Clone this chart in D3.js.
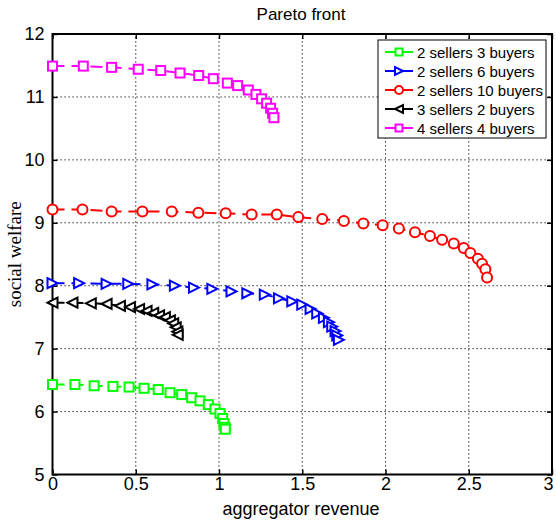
<!DOCTYPE html>
<html>
<head>
<meta charset="utf-8">
<script src="https://cdn.jsdelivr.net/npm/d3@7.9.0/dist/d3.min.js"></script>
<style>
  body { margin: 0; background: #fff; }
  svg { display: block; font-family: Arial, "Liberation Sans", sans-serif; }
</style>
</head>
<body>
<svg id="chart"></svg>
<script>
const width = 556, height = 521;

// --- data ---
const seriesNames = ["2 sellers 3 buyers", "2 sellers 6 buyers", "2 sellers 10 buyers", "3 sellers 2 buyers", "4 sellers 4 buyers"];

const green_x = [0, 0.135, 0.25, 0.363, 0.46, 0.55, 0.635, 0.706, 0.776, 0.836, 0.886, 0.936, 0.976, 1.006, 1.022, 1.03, 1.036, 1.038];
const green_y = [6.43, 6.43, 6.41, 6.40, 6.39, 6.37, 6.35, 6.30, 6.27, 6.22, 6.17, 6.11, 6.04, 5.97, 5.89, 5.81, 5.75, 5.72];

const blue_x = [0, 0.16, 0.325, 0.455, 0.60, 0.735, 0.85, 0.96, 1.075, 1.17, 1.275, 1.36, 1.44, 1.50, 1.55, 1.59, 1.63, 1.66, 1.68, 1.70, 1.71, 1.72];
const blue_y = [8.04, 8.04, 8.03, 8.03, 8.02, 8.00, 7.97, 7.95, 7.91, 7.88, 7.86, 7.80, 7.75, 7.70, 7.63, 7.56, 7.49, 7.42, 7.35, 7.28, 7.21, 7.14];

const red_x = [0, 0.18, 0.355, 0.54, 0.716, 0.876, 1.04, 1.196, 1.347, 1.476, 1.62, 1.75, 1.867, 1.983, 2.08, 2.177, 2.267, 2.34, 2.41, 2.47, 2.51, 2.555, 2.58, 2.60, 2.61];
const red_y = [9.21, 9.21, 9.18, 9.18, 9.18, 9.16, 9.15, 9.13, 9.13, 9.09, 9.06, 9.03, 8.99, 8.96, 8.91, 8.85, 8.79, 8.73, 8.67, 8.60, 8.52, 8.43, 8.35, 8.26, 8.13];

const black_x = [0, 0.12, 0.23, 0.325, 0.405, 0.465, 0.52, 0.565, 0.605, 0.64, 0.675, 0.705, 0.725, 0.74, 0.75, 0.752];
const black_y = [7.73, 7.73, 7.72, 7.71, 7.68, 7.66, 7.63, 7.60, 7.57, 7.53, 7.50, 7.45, 7.40, 7.34, 7.27, 7.22];

const magenta_x = [0, 0.185, 0.355, 0.515, 0.65, 0.766, 0.878, 0.966, 1.05, 1.112, 1.176, 1.222, 1.256, 1.286, 1.31, 1.322, 1.33];
const magenta_y = [11.49, 11.49, 11.47, 11.44, 11.42, 11.38, 11.34, 11.29, 11.22, 11.18, 11.11, 11.04, 10.97, 10.90, 10.82, 10.74, 10.67];

const xTicks = [0, 0.5, 1, 1.5, 2, 2.5, 3];
const yTicks = [5, 6, 7, 8, 9, 10, 11, 12];

const series = [
  { name: seriesNames[0], xs: green_x, ys: green_y, color: "#00ff00", marker: "square" },
  { name: seriesNames[1], xs: blue_x, ys: blue_y, color: "#0000ff", marker: "triRight" },
  { name: seriesNames[2], xs: red_x, ys: red_y, color: "#ff0000", marker: "circle" },
  { name: seriesNames[3], xs: black_x, ys: black_y, color: "#000000", marker: "triLeft" },
  { name: seriesNames[4], xs: magenta_x, ys: magenta_y, color: "#ff00ff", marker: "square" }
];

// --- layout ---
const margin = { left: 52.5, top: 34, right: 4, bottom: 46.5 };
const x = d3.scaleLinear().domain([0, 3]).range([margin.left, width - margin.right]);
const y = d3.scaleLinear().domain([5, 12]).range([height - margin.bottom, margin.top]);

const svg = d3.select("#chart").attr("width", width).attr("height", height);

// grid
const grid = svg.append("g").attr("stroke", "#000").attr("stroke-width", 1).attr("stroke-dasharray", "1.2,2.8");
grid.selectAll(".gx").data(xTicks.slice(1, -1)).join("line")
  .attr("x1", d => x(d)).attr("x2", d => x(d))
  .attr("y1", y(5)).attr("y2", y(12));
grid.selectAll(".gy").data(yTicks.slice(1, -1)).join("line")
  .attr("x1", x(0)).attr("x2", x(3))
  .attr("y1", d => y(d)).attr("y2", d => y(d));

// axes (inward ticks on all four sides)
const axisStyle = g => {
  g.select(".domain").remove();
  g.selectAll(".tick line").attr("stroke", "#000").attr("stroke-width", 1.5);
  g.selectAll(".tick text").attr("fill", "#000").attr("font-size", 18)
    .attr("font-family", "Arial, 'Liberation Sans', sans-serif");
};
svg.append("g").attr("transform", `translate(0,${y(5)})`)
  .call(d3.axisBottom(x).tickValues(xTicks).tickFormat(d3.format("")).tickSize(-5).tickPadding(3))
  .call(axisStyle)
  .call(g => g.selectAll(".tick text").filter(d => d === 3).attr("dx", -4));
svg.append("g").attr("transform", `translate(0,${y(12)})`)
  .call(d3.axisTop(x).tickValues(xTicks).tickFormat("").tickSize(-5))
  .call(axisStyle);
svg.append("g").attr("transform", `translate(${x(0)},0)`)
  .call(d3.axisLeft(y).tickValues(yTicks).tickFormat(d3.format("")).tickSize(-5).tickPadding(8))
  .call(axisStyle);
svg.append("g").attr("transform", `translate(${x(3)},0)`)
  .call(d3.axisRight(y).tickValues(yTicks).tickFormat("").tickSize(-5))
  .call(axisStyle);

// box
svg.append("rect")
  .attr("x", x(0)).attr("y", y(12))
  .attr("width", x(3) - x(0)).attr("height", y(5) - y(12))
  .attr("fill", "none").attr("stroke", "#000").attr("stroke-width", 2);

// markers
function drawMarker(g, type, color, size) {
  const s = size / 2;
  const common = m => m.attr("fill", "#fff").attr("stroke", color).attr("stroke-width", 2);
  if (type === "square") {
    g.append("rect").attr("x", -s + 0.5).attr("y", -s + 0.5).attr("width", size - 1).attr("height", size - 1).call(common);
  } else if (type === "circle") {
    g.append("circle").attr("r", s).call(common);
  } else if (type === "triRight") {
    g.append("path").attr("d", `M${s},0L${-s},${-s}L${-s},${s}Z`).call(common);
  } else if (type === "triLeft") {
    g.append("path").attr("d", `M${-s},0L${s},${-s}L${s},${s}Z`).call(common);
  }
}

const line = d3.line().x(d => x(d[0])).y(d => y(d[1]));

series.forEach(s => {
  const pts = s.xs.map((v, i) => [v, s.ys[i]]);
  const g = svg.append("g");
  g.append("path").datum(pts)
    .attr("d", line)
    .attr("fill", "none").attr("stroke", s.color).attr("stroke-width", 2)
    .attr("stroke-dasharray", "12,7");
  g.selectAll("g.m").data(pts).join("g")
    .attr("transform", d => `translate(${x(d[0])},${y(d[1])})`)
    .each(function() { drawMarker(d3.select(this), s.marker, s.color, 10); });
});

// title and labels
svg.append("text").attr("x", 301).attr("y", 20).attr("text-anchor", "middle")
  .attr("font-size", 17).text("Pareto front");
svg.append("text").attr("x", 301).attr("y", 515).attr("text-anchor", "middle")
  .attr("font-size", 18).text("aggregator revenue");
svg.append("text")
  .attr("transform", `translate(21,${(y(5) + y(12)) / 2}) rotate(-90)`)
  .attr("text-anchor", "middle")
  .attr("font-family", "'Times New Roman', 'Liberation Serif', serif")
  .attr("font-size", 19).text("social welfare");

// legend
const legend = svg.append("g").attr("transform", "translate(378,40)");
legend.append("rect").attr("width", 168).attr("height", 98)
  .attr("fill", "#fff").attr("stroke", "#000").attr("stroke-width", 1);
series.forEach((s, i) => {
  const row = legend.append("g").attr("transform", `translate(0,${12 + i * 19})`);
  row.append("line").attr("x1", 7).attr("x2", 35).attr("y1", 0).attr("y2", 0)
    .attr("stroke", s.color).attr("stroke-width", 2);
  drawMarker(row.append("g").attr("transform", "translate(21,0)"), s.marker, s.color, 8);
  row.append("text").attr("x", 39).attr("y", 5.5).attr("font-size", 15).text(s.name);
});
</script>
</body>
</html>
